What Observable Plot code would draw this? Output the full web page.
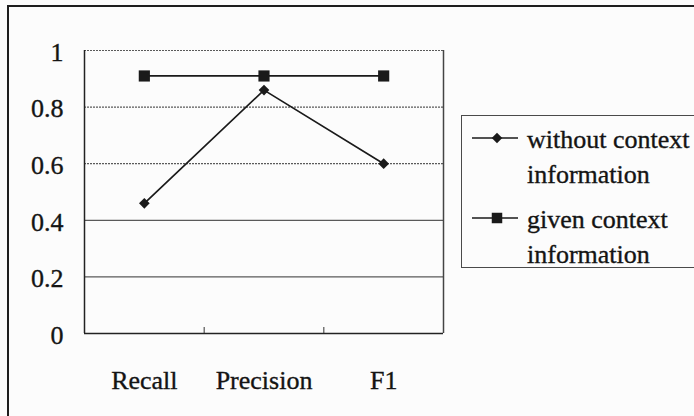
<!DOCTYPE html>
<html>
<head>
<meta charset="utf-8">
<script src="https://cdn.jsdelivr.net/npm/d3@7"></script>
<script src="https://cdn.jsdelivr.net/npm/@observablehq/plot@0.6"></script>
<style>
  body { margin: 0; background: #fff; }
  #wrap {
    position: relative; width: 694px; height: 416px; overflow: hidden;
    background: #fcfcfc; color: #141414;
    font-family: 'Liberation Serif', 'Times New Roman', serif;
  }
  #wrap > svg { position: absolute; left: 0; top: 0; background: transparent; }
  #wrap > svg text { stroke: #141414; stroke-width: 0.35px; }
  #frame {
    position: absolute; left: 7px; top: 5px; right: -20px; bottom: -20px;
    border-left: 2px solid #1e1e1e; border-top: 2px solid #1e1e1e;
  }
  #legend {
    position: absolute; left: 461px; top: 115px; width: 260px; height: 153px;
    border: 1.5px solid #4a4a4a; box-sizing: border-box;
    padding-top: 6px; font-size: 26px; line-height: 35px;
    -webkit-text-stroke: 0.35px #141414;
  }
  .item { display: flex; align-items: flex-start; margin-bottom: 10px; }
  .item svg { flex: none; margin-left: 10px; margin-right: 9px; }
  .item span { display: block; width: 180px; }
</style>
</head>
<body>
<div id="wrap">
  <div id="frame"></div>
  <div id="legend"></div>
</div>
<script>
// Evaluation metrics on the x axis
const categories = ["Recall", "Precision", "F1"];
// Scores for each series
const withoutContext = [0.46, 0.86, 0.60];
const givenContext = [0.91, 0.91, 0.91];
const seriesNames = ["without context information", "given context information"];
// Y axis ticks and their labels
const yTicks = [0, 0.2, 0.4, 0.6, 0.8, 1];
const yTickLabels = ["0", "0.2", "0.4", "0.6", "0.8", "1"];

const rows = (values, series) => values.map((value, i) => ({i, value, series}));
const dataWithout = rows(withoutContext, seriesNames[0]);
const dataGiven = rows(givenContext, seriesNames[1]);

const n = categories.length;
// separators between neighbouring categories
const boundaries = d3.range(0.5, n - 1, 1);

const chart = Plot.plot({
  width: 694,
  height: 416,
  marginLeft: 84,
  marginRight: 251,
  marginTop: 50,
  marginBottom: 83,
  style: {fontFamily: "'Liberation Serif', 'Times New Roman', serif", fontSize: "26px", background: "transparent", color: "#141414"},
  x: {domain: [-0.5, n - 0.5], label: null},
  y: {domain: [0, 1], label: null},
  marks: [
    // horizontal gridlines (upper ones dotted, lower ones solid)
    Plot.ruleY(yTicks.filter(d => d > 0 && d < 0.5), {stroke: "#5a5a5a", strokeWidth: 1.2}),
    Plot.ruleY(yTicks.filter(d => d >= 0.5), {stroke: "#5a5a5a", strokeWidth: 1.2, strokeDasharray: "2,1"}),
    // plot area frame
    Plot.ruleX([n - 0.5], {stroke: "#444", strokeWidth: 1.5}),
    Plot.ruleX([-0.5], {stroke: "#222", strokeWidth: 1.5}),
    Plot.ruleY([0], {stroke: "#222", strokeWidth: 1.5}),
    Plot.axisX({ticks: boundaries, tickSize: -6, tickFormat: () => "", stroke: "#333", label: null}),
    // category labels
    Plot.axisX({ticks: d3.range(n), tickFormat: i => categories[i], tickSize: 0, tickPadding: 37, label: null}),
    // value labels
    Plot.axisY({ticks: yTicks, tickFormat: (d, i) => yTickLabels[i], tickSize: 0, tickPadding: 21, dy: 2, label: null}),
    // series lines and markers
    Plot.line(dataGiven, {x: "i", y: "value", stroke: "#1a1a1a", strokeWidth: 1.7}),
    Plot.dot(dataGiven, {x: "i", y: "value", symbol: "square", r: 6.3, fill: "#1a1a1a", stroke: "none"}),
    Plot.line(dataWithout, {x: "i", y: "value", stroke: "#1a1a1a", strokeWidth: 1.7}),
    Plot.dot(dataWithout, {x: "i", y: "value", symbol: "diamond2", r: 4.8, fill: "#1a1a1a", stroke: "none"})
  ]
});
document.getElementById("wrap").appendChild(chart);

// Legend: line swatch with marker, followed by the series name
const symbols = [d3.symbolDiamond2, d3.symbolSquare];
const sizes = [70, 110];
const legend = d3.select("#legend");
seriesNames.forEach((name, k) => {
  const item = legend.append("div").attr("class", "item");
  const svg = item.append("svg").attr("width", 46).attr("height", 35);
  svg.append("line").attr("x1", 0).attr("x2", 46).attr("y1", 16).attr("y2", 16)
    .attr("stroke", "#1a1a1a").attr("stroke-width", 1.7);
  svg.append("path").attr("d", d3.symbol(symbols[k], sizes[k])())
    .attr("transform", "translate(25,16)").attr("fill", "#1a1a1a");
  item.append("span").text(name);
});
</script>
</body>
</html>
